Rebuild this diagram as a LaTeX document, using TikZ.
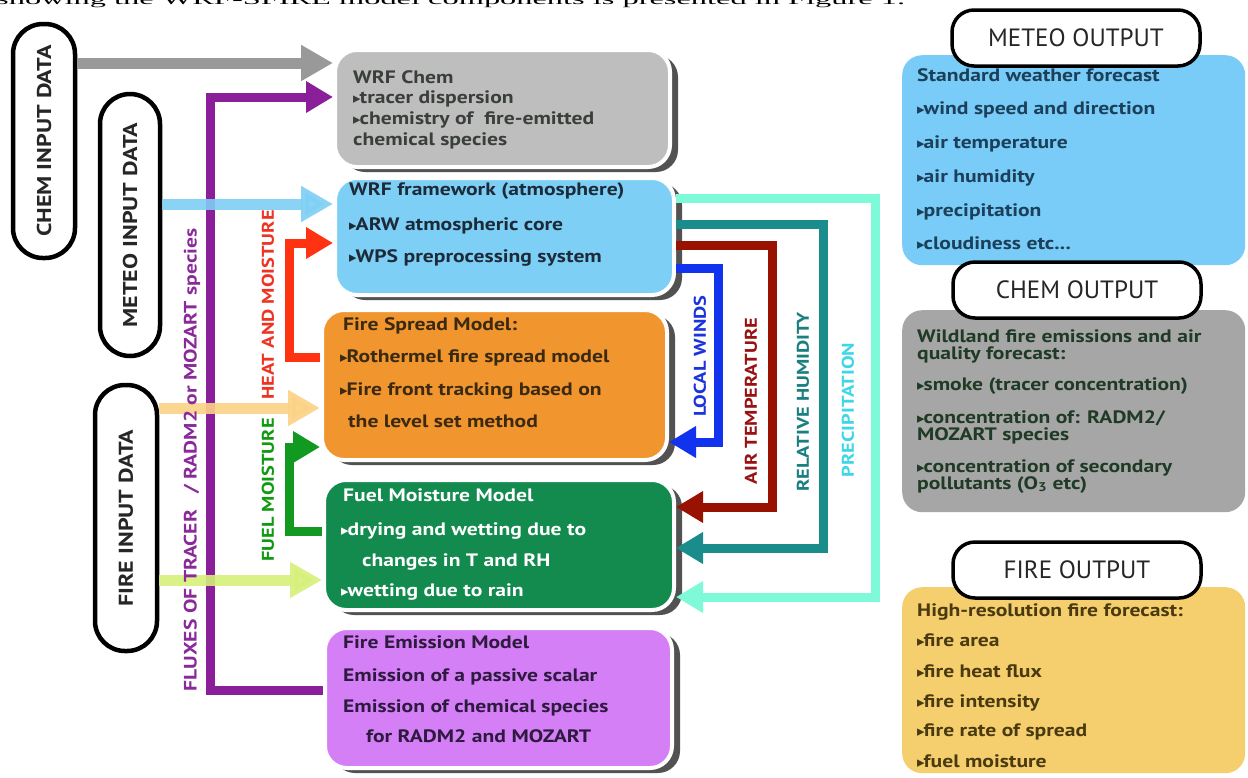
\documentclass[tikz,border=0pt]{standalone}
\usepackage{fontspec}
\setmainfont{PT Sans}[FakeStretch=1.2]
\newfontfamily\hdrfont{PT Sans}
\newfontfamily\serif{Liberation Serif}
\newfontfamily\symf{DejaVu Sans}
\usetikzlibrary{arrows.meta,calc}
\definecolor{cgrey}{HTML}{BEBEBE}
\definecolor{cblue}{HTML}{7DCFF5}
\definecolor{corange}{HTML}{F1952F}
\definecolor{cgreen}{HTML}{138A4E}
\definecolor{cviolet}{HTML}{D47FF5}
\definecolor{ometeo}{HTML}{78CCF7}
\definecolor{ochem}{HTML}{A6A6A6}
\definecolor{ofire}{HTML}{F5CE6E}
\definecolor{tchem}{HTML}{3A3F3A}
\definecolor{twrf}{HTML}{1D2A3A}
\definecolor{tfire}{HTML}{3B2A10}
\definecolor{temis}{HTML}{2E1A40}
\definecolor{tmeteo}{HTML}{1C3F5A}
\definecolor{tochem}{HTML}{1F3B25}
\definecolor{tofire}{HTML}{4A3A10}
\definecolor{agrey}{HTML}{999999}
\definecolor{ablue}{HTML}{7FCFF5}
\definecolor{apeach}{HTML}{FBD285}
\definecolor{ayg}{HTML}{D5F07A}
\definecolor{apurple}{HTML}{8B1F9A}
\definecolor{ared}{HTML}{FF3311}
\definecolor{agreen}{HTML}{119922}
\definecolor{awind}{HTML}{1133EE}
\definecolor{adred}{HTML}{991100}
\definecolor{ateal}{HTML}{1A8C8C}
\definecolor{aaqua}{HTML}{7FFAD8}
\definecolor{lpurple}{HTML}{8A2A9A}
\definecolor{lred}{HTML}{EE3322}
\definecolor{lgreen}{HTML}{119911}
\definecolor{lblue}{HTML}{1A33DD}
\definecolor{ldred}{HTML}{991111}
\definecolor{lteal}{HTML}{1A7F80}
\definecolor{lcyan}{HTML}{3FD6E8}
\newcommand\bul{{\symf\fontsize{15}{15}\selectfont ▸}\kern-1pt}
\newcommand\cbox[6]{%
  \fill[black!68, rounded corners=22pt] (#2+10,#3+7) rectangle ++(#4,#5);
  \node[mainbox, fill=#6, minimum width=#4pt, minimum height=#5pt, anchor=north west] (#1) at (#2,#3) {};}
\begin{document}
\begin{tikzpicture}[x=1pt,y=-1pt,
  mainbox/.style={rounded corners=22pt, draw=white, line width=4pt, inner sep=0},
  outbox/.style={rounded corners=20pt, inner sep=0, anchor=north west},
  hdr/.style={draw=black, line width=3.5pt, fill=white, rounded corners=22pt, minimum width=248pt, minimum height=56pt, inner sep=0, font=\hdrfont\fontsize{25}{25}\selectfont, text=black!85},
  inpill/.style={draw=black, line width=4.5pt, fill=white, rounded corners=30pt, rotate=90, inner sep=0, font=\bfseries\fontsize{20}{20}\selectfont, text=black!85},
  tl/.style={anchor=base west, inner sep=0, font=\bfseries\fontsize{18}{18}\selectfont},
  vlab/.style={rotate=90, inner sep=0, font=\bfseries\fontsize{17}{17}\selectfont},
  fat/.style={line width=11pt, -{Triangle[length=32pt,width=34pt]}},
  thin/.style={line width=9pt, line join=miter, -{Triangle[length=27pt,width=30pt]}}]
\useasboundingbox (0,0) rectangle (1248,777);
\clip (0,0) rectangle (1248,777);
\fill[white] (0,0) rectangle (1248,777);
% cut-off caption line
\node[anchor=base west, inner sep=0, font=\serif\fontsize{30}{30}\selectfont] (cap) at (-4,4.5) {\scalebox{1.08}[0.5]{showing the WRF-SFIRE model components is presented in Figure 1.}};

% input pills
\node[inpill, minimum width=234pt, minimum height=62pt] (chemin) at (44,141) {CHEM INPUT DATA};
\node[inpill, minimum width=262pt, minimum height=60pt] (meteoin) at (130,225) {METEO INPUT DATA};
\node[inpill, minimum width=266pt, minimum height=62pt] (firein) at (126,518) {FIRE INPUT DATA};

% central boxes
\cbox{wrfchem}{333}{48}{335}{117}{cgrey}
\cbox{wrf}{333}{176}{339}{117}{cblue}
\cbox{spread}{320}{308}{345}{150}{corange}
\cbox{fuel}{322}{478}{350}{130}{cgreen}
\cbox{emis}{323}{626}{347}{140}{cviolet}

% central texts
\foreach \y/\t [count=\i] in {83/WRF Chem, 103/\bul tracer dispersion, 124/{\bul chemistry of\ \ fire-emitted}, 145/chemical species}
  \node[tl, text=tchem] (wc\i) at (353,\y) {\t};
\foreach \y/\t [count=\i] in {195/WRF framework (atmosphere), 230/\bul ARW atmospheric core, 262/\bul WPS preprocessing system}
  \node[tl, text=twrf] (wf\i) at (349,\y) {\t};
\foreach \y/\x/\t [count=\i] in {330/343/Fire Spread Model:, 362/340/\bul Rothermel fire spread model, 395/340/\bul Fire front tracking based on, 427/348/the level set method}
  \node[tl, text=tfire] (fs\i) at (\x,\y) {\t};
\foreach \y/\x/\t [count=\i] in {501/343/Fuel Moisture Model, 535/341/\bul drying and wetting due to, 566/362/changes in T and RH, 596/341/\bul wetting due to rain}
  \node[tl, text=white] (fm\i) at (\x,\y) {\t};
\foreach \y/\x/\t [count=\i] in {648/343/Fire Emission Model, 681/343/Emission of a passive scalar, 712/343/Emission of chemical species, 742/366/for RADM2 and MOZART}
  \node[tl, text=temis] (fe\i) at (\x,\y) {\t};

% output boxes
\node[outbox, fill=ometeo, minimum width=343pt, minimum height=210pt] (meteoout) at (902,55) {};
\node[outbox, fill=ochem, minimum width=343pt, minimum height=202pt] (chemout) at (902,310) {};
\node[outbox, fill=ofire, minimum width=343pt, minimum height=186pt] (fireout) at (902,587) {};
\node[hdr] (meteohdr) at (1076,38) {METEO OUTPUT};
\node[hdr] (chemhdr) at (1077,290) {CHEM OUTPUT};
\node[hdr] (firehdr) at (1077,570) {FIRE OUTPUT};
\foreach \y/\t [count=\i] in {81/Standard weather forecast, 114/\bul wind speed and direction, 148/\bul air temperature, 182/\bul air humidity, 216/\bul precipitation, 249/{\bul cloudiness etc{.}{.}{.}}}
  \node[tl, text=tmeteo] (mo\i) at (917,\y) {\t};
\foreach \y/\t [count=\i] in {342/Wildland fire emissions and air, 359/quality forecast:, 390/\bul smoke (tracer concentration), 423/{\bul concentration of: RADM2/}, 440/MOZART species, 472/\bul concentration of secondary, 489/{pollutants (O\textsubscript{3} etc)}}
  \node[tl, text=tochem] (co\i) at (917,\y) {\t};
\foreach \y/\t [count=\i] in {616/High-resolution fire forecast:, 646/\bul fire area, 677/\bul fire heat flux, 707/\bul fire intensity, 736/\bul fire rate of spread, 767/\bul fuel moisture}
  \node[tl, text=tofire] (fo\i) at (917,\y) {\t};

% purple fluxes
\coordinate (pcorner) at (210,690);
\draw[thin, apurple] (emis.west |- pcorner) -- (pcorner) -- (210,97) -- (wrfchem.west |- 0,97);

% input arrows
\draw[fat, agrey] (chemin.south |- 0,63) -- (wrfchem.west |- 0,63);
\draw[fat, ablue, opacity=0.9] (meteoin.south |- 0,204) -- (wrf.west |- 0,204);
\draw[fat, apeach, opacity=0.9] (firein.south |- 0,408) -- (spread.west |- 0,408);
\draw[fat, ayg, opacity=0.9] (firein.south |- 0,580) -- (fuel.west |- 0,580);

% heat and moisture / fuel moisture
\draw[thin, ared] (spread.west |- 0,357) -- (289,357) -- (289,243) -- (wrf.west |- 0,243);
\draw[thin, agreen] (fuel.west |- 0,531) -- (289,531) -- (289,447) -- (spread.west |- 0,447);

% right feedback arrows
\draw[thin, aaqua] (wrf.east |- 0,198) -- (875,198) -- (875,597) -- (fuel.east |- 0,597);
\draw[thin, ateal] (wrf.east |- 0,224) -- (823,224) -- (823,548) -- (fuel.east |- 0,548);
\draw[thin, adred] (wrf.east |- 0,245) -- (772,245) -- (772,507) -- (fuel.east |- 0,507);
\draw[thin, awind] (wrf.east |- 0,268) -- (718,268) -- (718,442) -- (spread.east |- 0,442);

% vertical labels
\node[vlab, text=lpurple, font=\bfseries\fontsize{18}{18}\selectfont] (fluxlab) at (192,460) {FLUXES OF TRACER\hspace{16pt}/ RADM2 or MOZART species};
\node[vlab, text=lred] (heatlab) at (268,305) {HEAT AND MOISTURE};
\node[vlab, text=lgreen] (fuellab) at (268,490) {FUEL MOISTURE};
\node[vlab, text=lblue] (windlab) at (700,356) {LOCAL WINDS};
\node[vlab, text=ldred] (templab) at (751,401) {AIR TEMPERATURE};
\node[vlab, text=lteal] (rhlab) at (803,402) {RELATIVE HUMIDITY};
\node[vlab, text=lcyan] (preclab) at (848,410) {PRECIPITATION};
\end{tikzpicture}
\end{document}
